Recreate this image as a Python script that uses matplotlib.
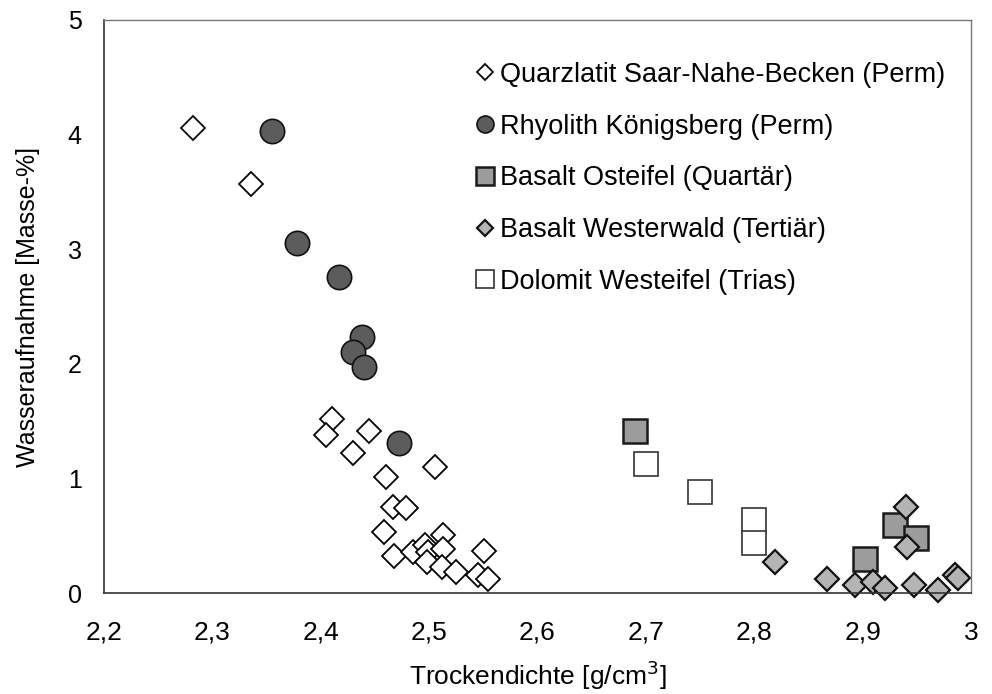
import matplotlib
matplotlib.use("Agg")
import matplotlib.pyplot as plt

plt.rcParams['font.family'] = ['Liberation Sans', 'DejaVu Sans']

# Quarzlatit Saar-Nahe-Becken (Perm)
quarzX = [2.282, 2.336, 2.41, 2.405, 2.445, 2.43, 2.505, 2.460, 2.467, 2.479,
          2.458, 2.468, 2.485, 2.496, 2.499, 2.513, 2.513, 2.498, 2.512, 2.525,
          2.551, 2.545, 2.554]
quarzY = [4.06, 3.57, 1.52, 1.38, 1.41, 1.22, 1.10, 1.01, 0.75, 0.74,
          0.53, 0.32, 0.36, 0.42, 0.36, 0.51, 0.38, 0.27, 0.23, 0.18,
          0.37, 0.16, 0.12]

# Rhyolith Koenigsberg (Perm)
rhyoX = [2.355, 2.378, 2.417, 2.438, 2.430, 2.440, 2.4725]
rhyoY = [4.03, 3.05, 2.76, 2.23, 2.10, 1.97, 1.31]

# Basalt Osteifel (Quartaer)
ostX = [2.69, 2.902, 2.930, 2.949]
ostY = [1.41, 0.30, 0.59, 0.48]

# Basalt Westerwald (Tertiaer)
westX = [2.819, 2.867, 2.893, 2.910, 2.921, 2.947, 2.970, 2.985, 2.988, 2.940, 2.941]
westY = [0.27, 0.12, 0.07, 0.10, 0.04, 0.07, 0.03, 0.16, 0.13, 0.75, 0.40]

# Dolomit Westeifel (Trias)
dolX = [2.70, 2.750, 2.800, 2.800]
dolY = [1.13, 0.88, 0.64, 0.44]

labels = ['Quarzlatit Saar-Nahe-Becken (Perm)',
          'Rhyolith Königsberg (Perm)',
          'Basalt Osteifel (Quartär)',
          'Basalt Westerwald (Tertiär)',
          'Dolomit Westeifel (Trias)']

fig = plt.figure(figsize=(9.92, 6.94), dpi=100)
ax = fig.add_axes([0.1048, 0.1455, 0.8740, 0.8257])

ax.plot(quarzX, quarzY, 'D', ms=12.2, mfc='white', mec='black', mew=1.3,
        label=labels[0], clip_on=False)
ax.plot(rhyoX, rhyoY, 'o', ms=17.5, mfc='#5c5c5c', mec='#111111', mew=1.2,
        label=labels[1], clip_on=False)
ax.plot(ostX, ostY, 's', ms=17.5, mfc='#9c9c9c', mec='#1a1a1a', mew=1.8,
        label=labels[2], clip_on=False)
ax.plot(westX, westY, 'D', ms=12.2, mfc='#b4b4b4', mec='#111111', mew=1.6,
        label=labels[3], clip_on=False)
ax.plot(dolX, dolY, 's', ms=17.5, mfc='white', mec='#333333', mew=1.2,
        label=labels[4], clip_on=False)

ax.set_xlim(2.2, 3.0)
ax.set_ylim(0, 5)
ax.set_xticks([2.2, 2.3, 2.4, 2.5, 2.6, 2.7, 2.8, 2.9, 3.0])
ax.set_xticklabels(['2,2', '2,3', '2,4', '2,5', '2,6', '2,7', '2,8', '2,9', '3'],
                   fontsize=19)
ax.set_yticks([0, 1, 2, 3, 4, 5])
ax.set_yticklabels(['0', '1', '2', '3', '4', '5'], fontsize=18)
ax.tick_params(axis='both', length=0)
ax.tick_params(axis='x', pad=20)
ax.tick_params(axis='y', pad=16)

for side in ['left', 'bottom']:
    ax.spines[side].set_color('#333333')
    ax.spines[side].set_linewidth(1.2)
for side in ['top', 'right']:
    ax.spines[side].set_color('#777777')
    ax.spines[side].set_linewidth(1.0)

ax.set_xlabel('Trockendichte [g/cm$^3$]', fontsize=19, labelpad=10)
ax.set_ylabel('Wasseraufnahme [Masse-%]', fontsize=18, labelpad=20)

ax.legend(loc='upper left', bbox_to_anchor=(0.430, 0.927), frameon=False,
          fontsize=19.5, markerscale=0.7, handlelength=0.6, handletextpad=0.25,
          labelspacing=0.95, borderaxespad=0, borderpad=0)

fig.savefig('out.png', dpi=100)
